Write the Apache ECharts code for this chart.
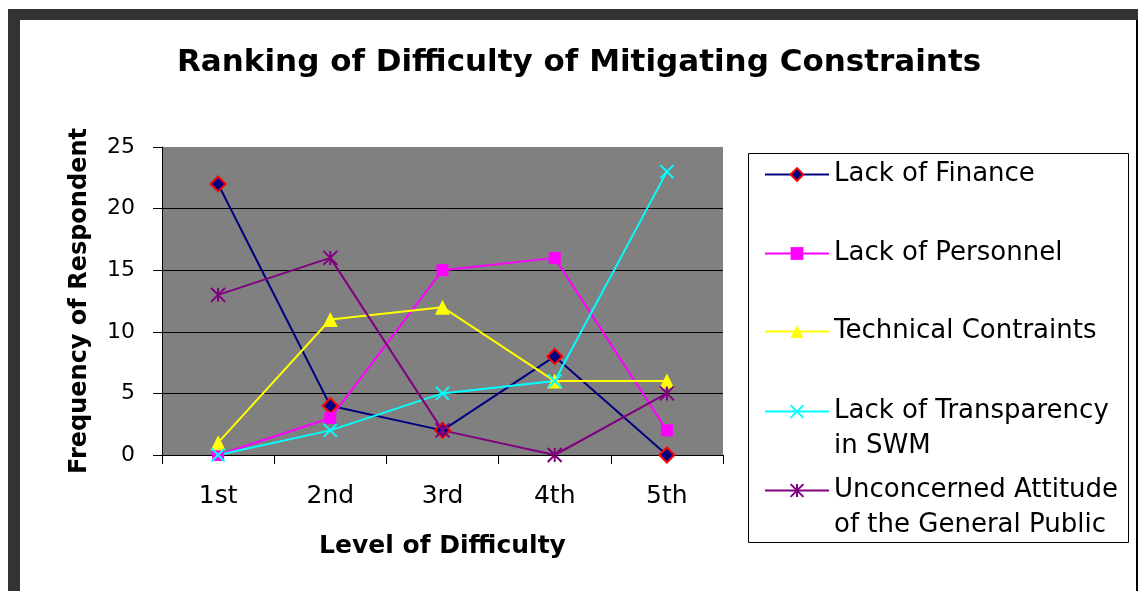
<!DOCTYPE html>
<html>
<head>
<meta charset="utf-8">
<title>Ranking of Difficulty of Mitigating Constraints</title>
<script src="https://cdn.jsdelivr.net/npm/echarts@6/dist/echarts.min.js"></script>
<style>
  html, body { margin: 0; padding: 0; background: #fff; }
  #chart { width: 1138px; height: 591px; }
</style>
</head>
<body>
<div id="chart"></div>
<script>
// categories on the x axis
const levels = ["1st", "2nd", "3rd", "4th", "5th"];

// frequency of respondent per level
const lackOfFinance = [22, 4, 2, 8, 0];
const lackOfPersonnel = [0, 3, 15, 16, 2];
const technicalContraints = [1, 11, 12, 6, 6];
const lackOfTransparency = [0, 2, 5, 6, 23];
const unconcernedAttitude = [13, 16, 2, 0, 5];

const seriesNames = [
  "Lack of Finance",
  "Lack of Personnel",
  "Technical Contraints",
  "Lack of Transparency in SWM",
  "Unconcerned Attitude of the General Public",
];

// how the legend breaks the long names (leading blank line keeps the
// icon level with the first line of text)
const legendLabels = {
  "Lack of Transparency in SWM": " \nLack of Transparency\nin SWM",
  "Unconcerned Attitude of the General Public": " \nUnconcerned Attitude\nof the General Public",
};

const FONT = "DejaVu Sans";
const CROSS = "path://M0 0L10 10M10 0L0 10";
const ASTERISK = "path://M0 0L10 10M10 0L0 10M5 0L5 10";

const chart = echarts.init(document.getElementById("chart"));

function lineSeries(name, data, color, symbol, size, itemStyle) {
  return {
    name: name,
    type: "line",
    data: data,
    symbol: symbol,
    symbolSize: size,
    lineStyle: { color: color, width: 2 },
    itemStyle: itemStyle || { color: color },
  };
}

// one legend per entry so each one can sit where it does in the original box
const iconCenters = [174, 253, 331, 409, 488];
const legends = seriesNames.map((name, i) => {
  const twoLines = !!legendLabels[name];
  return {
    data: [name],
    orient: "vertical",
    left: 759,
    top: iconCenters[i] - (twoLines ? 55 : 22),
    itemWidth: 64,
    itemHeight: 16,
    selectedMode: false,
    formatter: (n) => legendLabels[n] || n,
    textStyle: {
      fontFamily: FONT,
      fontSize: 26,
      color: "#000",
      lineHeight: 35,
    },
  };
});

const option = {
  animation: false,
  backgroundColor: "#fff",
  title: {
    text: "Ranking of Difficulty of Mitigating Constraints",
    left: 177,
    top: 47,
    padding: 0,
    textStyle: {
      fontFamily: FONT,
      fontSize: 31,
      fontWeight: "bold",
      color: "#000",
    },
  },
  legend: legends,
  grid: {
    left: 162,
    right: 415,
    top: 147,
    bottom: 136,
    show: true,
    backgroundColor: "#808080",
    borderWidth: 0,
  },
  xAxis: {
    type: "category",
    data: levels,
    boundaryGap: true,
    name: "Level of Difficulty",
    nameLocation: "middle",
    nameGap: 79,
    nameTextStyle: {
      fontFamily: FONT,
      fontSize: 25,
      fontWeight: "bold",
      color: "#000",
    },
    axisLine: { show: true, lineStyle: { color: "#000", width: 1 } },
    axisTick: { show: true, length: 9, lineStyle: { color: "#000" } },
    axisLabel: {
      fontFamily: FONT,
      fontSize: 25,
      color: "#000",
      margin: 29,
    },
    splitLine: { show: false },
  },
  yAxis: {
    type: "value",
    min: 0,
    max: 25,
    interval: 5,
    name: "Frequency of Respondent",
    nameLocation: "middle",
    nameGap: 70,
    nameTextStyle: {
      fontFamily: FONT,
      fontSize: 24,
      fontWeight: "bold",
      color: "#000",
    },
    axisLine: { show: true, lineStyle: { color: "#000", width: 1 } },
    axisTick: { show: true, length: 9, lineStyle: { color: "#000" } },
    axisLabel: {
      fontFamily: FONT,
      fontSize: 22,
      color: "#000",
      margin: 27,
    },
    splitLine: {
      show: true,
      showMaxLine: false,
      lineStyle: { color: "#000", width: 1 },
    },
  },
  series: [
    lineSeries(seriesNames[0], lackOfFinance, "#000080", "diamond", 15, {
      color: "#000080",
      borderColor: "#ff0000",
      borderWidth: 2,
    }),
    lineSeries(seriesNames[1], lackOfPersonnel, "#ff00ff", "rect", 12),
    lineSeries(seriesNames[2], technicalContraints, "#ffff00", "triangle", 15),
    lineSeries(seriesNames[3], lackOfTransparency, "#00ffff", CROSS, 13, {
      color: "#00ffff",
      borderColor: "#00ffff",
      borderWidth: 2,
    }),
    lineSeries(seriesNames[4], unconcernedAttitude, "#800080", ASTERISK, 14, {
      color: "#800080",
      borderColor: "#800080",
      borderWidth: 2,
    }),
  ],
  graphic: [
    // dark frame along the top and left edges
    { type: "rect", shape: { x: 8, y: 9, width: 1130, height: 11 }, style: { fill: "#333" }, silent: true },
    { type: "rect", shape: { x: 8, y: 9, width: 12, height: 582 }, style: { fill: "#333" }, silent: true },
    { type: "rect", shape: { x: 1136, y: 20, width: 2, height: 571 }, style: { fill: "#000" }, silent: true },
    // legend box
    {
      type: "rect",
      shape: { x: 748.5, y: 153.5, width: 380, height: 389 },
      style: { fill: "none", stroke: "#000", lineWidth: 1 },
      silent: true,
      z: -1,
    },
  ],
};

chart.setOption(option);
</script>
</body>
</html>
